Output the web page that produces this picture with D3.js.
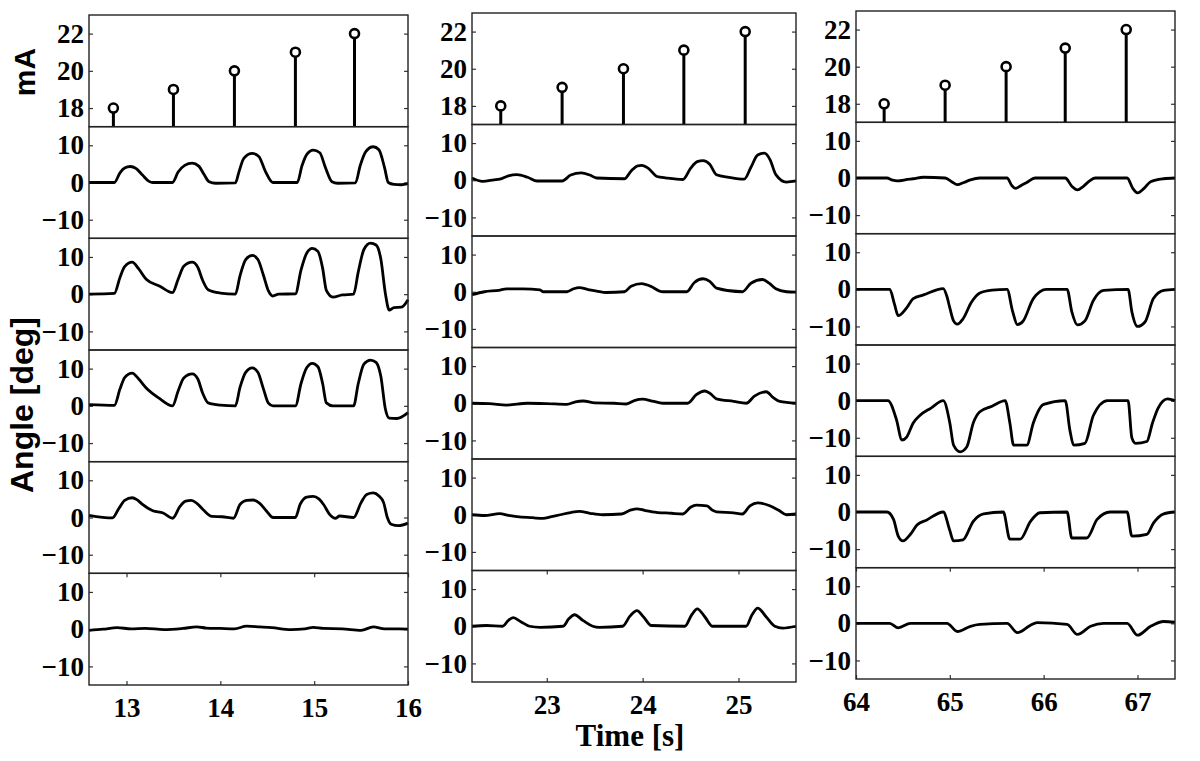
<!DOCTYPE html>
<html>
<head>
<meta charset="utf-8">
<script src="https://cdn.jsdelivr.net/npm/d3@7"></script>
<style>
  body { margin: 0; background: #fff; }
  .tick line { stroke: #333; stroke-width: 1.2px; }
</style>
</head>
<body>
<div id="chart-area"></div>
<script>
// ---- data ----
const timeDomains = [[12.6, 16], [22.22, 25.6], [64, 67.4]]
const timeTicks = [[13, 14, 15, 16], [23, 24, 25], [64, 65, 66, 67]]

// stimulation pulses (time of pulse, current in mA)
const stemTimesLeft = [12.86, 13.5, 14.15, 14.8, 15.43]
const stemTimesMid = [22.52, 23.16, 23.8, 24.43, 25.07]
const stemTimesRight = [64.3, 64.95, 65.6, 66.23, 66.88]
const currentValues = [18, 19, 20, 21, 22]
const currentTicks = [18, 20, 22]
const angleTicks = [-10, 0, 10]

// joint angles [time, deg], one array per row
const left1 = [[12.6,0],[12.87,0],[12.93,2.6],[12.98,3.9],[13.04,4.3],[13.1,3.8],[13.17,2],[13.24,0.3],[13.28,0],[13.49,0],[13.55,2.8],[13.62,4.6],[13.7,5.2],[13.77,4.4],[13.83,2],[13.88,0.2],[13.95,-0.2],[14.16,-0.1],[14.2,3],[14.25,6.5],[14.34,7.8],[14.41,7],[14.48,3],[14.56,0],[14.82,0],[14.87,4.5],[14.92,7.5],[14.99,8.7],[15.06,8],[15.12,4],[15.19,0.2],[15.25,-0.2],[15.44,-0.1],[15.49,4.5],[15.55,8.3],[15.63,9.6],[15.69,8.8],[15.75,4],[15.79,0],[15.85,-0.5],[15.93,-0.6],[16,-0.3]]
const left2 = [[12.6,0],[12.87,0.2],[12.93,4.5],[12.98,7.4],[13.06,8.6],[13.13,6.8],[13.21,4],[13.35,2.2],[13.49,0.4],[13.55,4],[13.61,7.5],[13.7,8.6],[13.76,7.2],[13.81,3.8],[13.87,1.2],[14.0,0.3],[14.16,0],[14.21,5],[14.27,9.3],[14.34,10.4],[14.4,9.3],[14.46,5],[14.51,1],[14.56,-0.5],[14.62,0],[14.8,0.1],[14.86,6.5],[14.92,11],[14.98,12.3],[15.04,11.5],[15.09,7],[15.13,1],[15.2,-0.8],[15.3,-0.2],[15.42,0],[15.47,6],[15.53,12],[15.6,13.7],[15.66,13.2],[15.71,9.5],[15.76,0],[15.8,-4.3],[15.85,-3.6],[15.93,-3.5],[16,-1.5]]
const left3 = [[12.6,0.3],[12.87,0.1],[12.93,4.5],[12.98,7.6],[13.06,8.8],[13.13,7.2],[13.21,4.8],[13.35,2],[13.49,0],[13.55,4],[13.61,7.5],[13.7,8.6],[13.76,7.2],[13.81,3.5],[13.87,0.8],[14.0,0.2],[14.16,0],[14.21,5],[14.27,9],[14.34,10.2],[14.4,9],[14.46,4.5],[14.51,0.8],[14.56,0],[14.8,0],[14.86,6],[14.92,10.2],[14.98,11.4],[15.04,10.5],[15.09,6],[15.13,0.8],[15.2,0],[15.42,0],[15.47,6],[15.53,11.2],[15.6,12.3],[15.66,11.7],[15.71,8],[15.76,-1],[15.8,-3.3],[15.88,-3.4],[16,-1.8]]
const left4 = [[12.6,0.6],[12.85,-0.1],[12.92,2.5],[12.98,4.6],[13.06,5.3],[13.11,4.8],[13.17,3.5],[13.28,1.8],[13.39,1.2],[13.49,-0.2],[13.57,3],[13.63,4.4],[13.69,4.6],[13.75,3.8],[13.82,2],[13.91,0.3],[14.02,0.2],[14.14,-0.2],[14.21,3.5],[14.28,4.6],[14.35,4.7],[14.42,3.8],[14.5,1.5],[14.56,0],[14.8,0],[14.85,3.5],[14.92,5.5],[14.99,5.7],[15.05,5],[15.1,3.5],[15.16,1],[15.23,-0.2],[15.27,0.4],[15.42,0],[15.5,4],[15.56,6.2],[15.63,6.6],[15.69,5.8],[15.74,4],[15.78,0],[15.82,-1.8],[15.9,-2.2],[16,-1.5]]
const left5 = [[12.6,-0.3],[12.75,0],[12.9,0.4],[13.05,0.1],[13.2,0.2],[13.4,-0.1],[13.6,0.2],[13.75,0.6],[13.85,0.3],[14.0,0.2],[14.15,0.1],[14.28,0.8],[14.42,0.6],[14.55,0.4],[14.75,-0.1],[14.9,0.1],[14.99,0.5],[15.1,0.2],[15.3,0.1],[15.5,-0.3],[15.63,0.6],[15.75,0.1],[15.9,0.1],[16,0]]

const mid1 = [[22.22,0.6],[22.33,-0.3],[22.45,0.1],[22.51,0.3],[22.6,1.2],[22.69,1.5],[22.8,0.8],[22.9,-0.2],[23.16,-0.2],[23.25,1.4],[23.36,2],[23.45,1.4],[23.52,0.6],[23.81,0.4],[23.88,2.5],[23.95,3.9],[23.99,4],[24.06,3.2],[24.15,1],[24.25,0.6],[24.42,0.2],[24.5,3.2],[24.57,5],[24.63,5.3],[24.7,4.3],[24.77,1.5],[24.9,0.8],[25.06,0.3],[25.13,3.5],[25.2,6.8],[25.27,7.3],[25.33,5.5],[25.39,1.5],[25.5,-0.5],[25.6,-0.2]]
const mid2 = [[22.22,-0.8],[22.35,0],[22.5,0.4],[22.58,0.8],[22.75,0.8],[22.93,0.5],[22.96,0],[23.21,0],[23.28,0.8],[23.34,1.1],[23.43,0.6],[23.52,0.2],[23.62,-0.2],[23.81,0],[23.88,1.5],[23.99,2.2],[24.08,1.5],[24.21,0],[24.46,0],[24.54,2.5],[24.63,3.5],[24.7,2.8],[24.77,1],[25.04,0],[25.13,2.3],[25.25,3.3],[25.32,2.3],[25.39,0.8],[25.5,0],[25.6,-0.1]]
const mid3 = [[22.22,0],[22.4,-0.1],[22.58,-0.5],[22.8,0],[23.0,-0.1],[23.21,-0.3],[23.3,0.4],[23.38,0.6],[23.5,0.1],[23.7,0],[23.83,-0.2],[23.92,0.8],[24.0,1.1],[24.1,0.6],[24.21,0],[24.47,0],[24.56,2.3],[24.65,3.3],[24.71,2.5],[24.77,1.2],[24.95,0.5],[25.08,0],[25.17,2],[25.29,3.1],[25.36,1.6],[25.43,0.5],[25.6,0]]
const mid4 = [[22.22,0],[22.35,-0.2],[22.51,0.3],[22.6,-0.2],[22.69,-0.5],[22.85,-0.8],[22.96,-1],[23.05,-0.5],[23.14,0],[23.25,0.6],[23.34,0.9],[23.45,0.4],[23.58,0],[23.78,0.2],[23.88,1.3],[23.94,1.6],[24.02,1.2],[24.1,0.8],[24.3,0.4],[24.42,0.2],[24.5,2],[24.56,2.6],[24.67,2.4],[24.73,1.2],[24.77,0.8],[24.95,0.5],[25.04,0.2],[25.12,2.4],[25.2,3.2],[25.32,2.5],[25.42,1.2],[25.5,0],[25.6,0.2]]
const mid5 = [[22.22,0],[22.37,0.2],[22.54,0],[22.6,1.6],[22.65,2.3],[22.73,1.2],[22.82,0],[22.93,-0.3],[23.17,0],[23.23,2],[23.29,3.1],[23.38,1.5],[23.48,0],[23.55,-0.3],[23.79,0],[23.87,2.8],[23.94,4.2],[24.01,2.5],[24.09,0.2],[24.44,0],[24.51,3],[24.57,4.7],[24.65,2.5],[24.73,0],[25.08,0],[25.14,3],[25.2,4.9],[25.29,2.5],[25.38,0],[25.46,-0.5],[25.6,0]]

const right1 = [[64,0],[64.33,0],[64.39,-0.6],[64.44,-0.8],[64.55,-0.4],[64.61,-0.2],[64.72,0.2],[64.95,0],[65.02,-1],[65.08,-1.8],[65.15,-1.2],[65.22,-0.5],[65.32,0],[65.61,0],[65.66,-2],[65.7,-2.8],[65.76,-2],[65.82,-1.2],[65.91,0],[66.23,0],[66.3,-2.2],[66.36,-3.2],[66.42,-2.3],[66.48,-1],[66.55,0],[66.89,0],[66.95,-2.8],[67.0,-4],[67.07,-2.8],[67.14,-1],[67.28,-0.2],[67.4,0]]
const right2 = [[64,0],[64.36,0],[64.41,-4],[64.45,-7.1],[64.54,-5],[64.61,-2.5],[64.72,-1.5],[64.93,0.2],[64.97,-2],[65.0,-5],[65.04,-8.5],[65.08,-9.4],[65.14,-8],[65.23,-3.5],[65.32,-1],[65.45,-0.2],[65.61,0],[65.67,-6],[65.72,-9.5],[65.78,-8.6],[65.89,-2.5],[66.03,0],[66.25,0],[66.3,-6],[66.36,-9.6],[66.44,-8.5],[66.53,-3],[66.64,-0.3],[66.9,0],[66.94,-6],[67.0,-10],[67.08,-8.8],[67.17,-2.5],[67.28,-0.3],[67.4,0]]
const right3 = [[64,0],[64.34,0],[64.43,-5],[64.49,-10.6],[64.54,-9.8],[64.61,-6],[64.68,-4],[64.8,-2],[64.93,0],[65.0,-6],[65.04,-12],[65.11,-13.8],[65.18,-12.5],[65.25,-6],[65.32,-3],[65.45,-1.5],[65.59,0],[65.64,-6],[65.68,-12],[65.82,-12],[65.89,-6],[66.0,-1],[66.23,0],[66.28,-8],[66.32,-12],[66.44,-11.5],[66.53,-4],[66.68,0],[66.9,0],[66.94,-10],[66.98,-11.5],[67.1,-11],[67.16,-6],[67.22,-2],[67.32,0.5],[67.4,0]]
const right4 = [[64,0],[64.33,0],[64.4,-2],[64.45,-6.5],[64.5,-7.8],[64.58,-6],[64.65,-3.5],[64.75,-2.2],[64.93,0],[65.0,-5],[65.04,-7.8],[65.14,-7.5],[65.25,-2.5],[65.36,-0.5],[65.57,0],[65.64,-7.3],[65.75,-7.3],[65.86,-2.5],[65.96,-0.2],[66.25,0],[66.3,-7],[66.46,-7],[66.57,-2],[66.71,0],[66.89,0],[66.94,-6.5],[67.1,-6],[67.17,-3],[67.28,-0.5],[67.4,0]]
const right5 = [[64,0],[64.36,0],[64.45,-1.2],[64.58,0],[64.97,0],[65.08,-2.2],[65.22,-0.8],[65.32,-0.3],[65.61,0],[65.72,-2.5],[65.86,-0.5],[65.93,0.2],[66.25,-0.3],[66.36,-3],[66.5,-0.8],[66.64,0],[66.89,0],[67.0,-3.2],[67.14,-0.8],[67.28,0.5],[67.4,0.3]]

const WIDTH = 1200
const HEIGHT = 761
const SERIF = "'Liberation Serif', 'Times New Roman', serif"

const svg = d3.select("#chart-area").append("svg")
    .attr("width", WIDTH)
    .attr("height", HEIGHT)

// bold serif tick labels, like the matlab export
function styleTicks(a) {
    a.select(".domain").remove()
    a.selectAll("text")
        .attr("font-family", SERIF)
        .attr("font-weight", "bold")
        .attr("font-size", "27px")
        .attr("fill", "#000")
}

class StackColumn {
    constructor(_svg, _box, _xDomain, _xTicks, _stems, _traces) {
        this.svg = _svg
        this.box = _box
        this.xDomain = _xDomain
        this.xTicks = _xTicks
        this.stems = _stems
        this.traces = _traces
        this.initVis()
    }

    initVis() {
        const vis = this
        const b = vis.box
        vis.nRows = vis.traces.length + 1
        vis.rowH = (b.bottom - b.top) / vis.nRows

        vis.x = d3.scaleLinear().domain(vis.xDomain).range([b.left, b.right])

        // top panel: stimulation current
        vis.drawStemPanel(b.top, b.top + vis.rowH)

        // angle panels
        vis.traces.forEach((tr, i) => {
            const y0 = b.top + vis.rowH * (i + 1)
            vis.drawTracePanel(tr, y0, y0 + vis.rowH, i === vis.traces.length - 1)
        })
    }

    yAxes(g, y, ticks) {
        const vis = this
        g.append("g")
            .attr("transform", `translate(${vis.box.left},0)`)
            .call(d3.axisLeft(y).tickValues(ticks).tickFormat(d3.format("d"))
                .tickSize(-4).tickSizeOuter(0).tickPadding(5))
            .call(styleTicks)
        g.append("g")
            .attr("transform", `translate(${vis.box.right},0)`)
            .call(d3.axisRight(y).tickValues(ticks).tickSize(-4).tickSizeOuter(0).tickFormat(""))
            .call(styleTicks)
    }

    frame(g, top, bottom) {
        const vis = this
        g.append("rect")
            .attr("x", vis.box.left)
            .attr("y", top)
            .attr("width", vis.box.right - vis.box.left)
            .attr("height", bottom - top)
            .attr("fill", "none")
            .attr("stroke", "#222")
            .attr("stroke-width", 1.4)
    }

    drawStemPanel(top, bottom) {
        const vis = this
        const g = vis.svg.append("g")
        const y = d3.scaleLinear().domain([17, 23]).range([bottom, top])

        vis.yAxes(g, y, currentTicks)
        vis.frame(g, top, bottom)

        const pts = vis.stems.map((t, i) => ({ t: t, v: currentValues[i] }))
        g.selectAll(".stem").data(pts).enter().append("line")
            .attr("class", "stem")
            .attr("x1", d => vis.x(d.t))
            .attr("x2", d => vis.x(d.t))
            .attr("y1", y(17))
            .attr("y2", d => y(d.v))
            .attr("stroke", "#000")
            .attr("stroke-width", 3)
        g.selectAll(".mark").data(pts).enter().append("circle")
            .attr("class", "mark")
            .attr("cx", d => vis.x(d.t))
            .attr("cy", d => y(d.v))
            .attr("r", 4.5)
            .attr("fill", "#fff")
            .attr("stroke", "#000")
            .attr("stroke-width", 2.6)
    }

    drawTracePanel(data, top, bottom, isLast) {
        const vis = this
        const g = vis.svg.append("g")
        const y = d3.scaleLinear().domain([-15, 15]).range([bottom, top])

        vis.yAxes(g, y, angleTicks)

        if (isLast) {
            g.append("g")
                .attr("transform", `translate(0,${bottom})`)
                .call(d3.axisBottom(vis.x).tickValues(vis.xTicks).tickFormat(d3.format("d"))
                    .tickSize(-4).tickSizeOuter(0).tickPadding(13))
                .call(styleTicks)
            g.append("g")
                .attr("transform", `translate(0,${top})`)
                .call(d3.axisTop(vis.x).tickValues(vis.xTicks).tickSize(-4).tickSizeOuter(0).tickFormat(""))
                .call(styleTicks)
        }

        const line = d3.line()
            .x(d => vis.x(d[0]))
            .y(d => y(d[1]))
            .curve(d3.curveMonotoneX)

        g.append("path")
            .attr("d", line(data))
            .attr("fill", "none")
            .attr("stroke", "#000")
            .attr("stroke-width", 2.8)
            .attr("stroke-linejoin", "round")

        vis.frame(g, top, bottom)
    }
}

new StackColumn(svg, { left: 89, right: 408, top: 15, bottom: 685 },
    timeDomains[0], timeTicks[0], stemTimesLeft, [left1, left2, left3, left4, left5])
new StackColumn(svg, { left: 472, right: 796, top: 13, bottom: 682 },
    timeDomains[1], timeTicks[1], stemTimesMid, [mid1, mid2, mid3, mid4, mid5])
new StackColumn(svg, { left: 856, right: 1175, top: 11, bottom: 679 },
    timeDomains[2], timeTicks[2], stemTimesRight, [right1, right2, right3, right4, right5])

// axis titles
svg.append("text")
    .attr("transform", "translate(35,72) rotate(-90)")
    .attr("text-anchor", "middle")
    .attr("font-family", "'Liberation Sans', Arial, sans-serif")
    .attr("font-weight", "bold")
    .attr("font-size", "30px")
    .text("mA")

svg.append("text")
    .attr("transform", "translate(33,405) rotate(-90)")
    .attr("text-anchor", "middle")
    .attr("font-family", "'Liberation Sans', Arial, sans-serif")
    .attr("font-weight", "bold")
    .attr("font-size", "32px")
    .text("Angle [deg]")

svg.append("text")
    .attr("x", 630)
    .attr("y", 746)
    .attr("text-anchor", "middle")
    .attr("font-family", SERIF)
    .attr("font-weight", "bold")
    .attr("font-size", "31px")
    .text("Time [s]")
</script>
</body>
</html>
